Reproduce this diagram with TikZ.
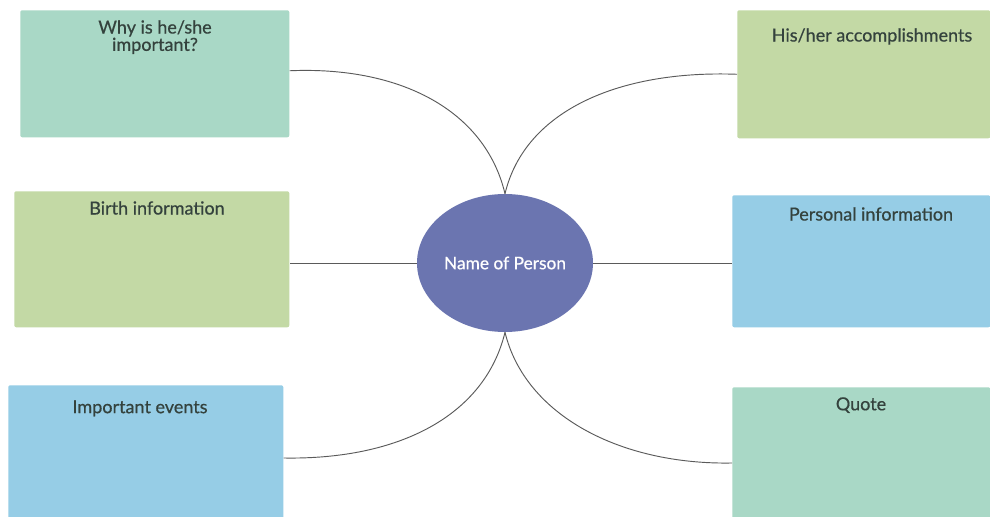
\documentclass[tikz,border=0pt]{standalone}
\usepackage{fontspec}
\setmainfont{Lato}
\newfontfamily\labelfont[FakeBold=0.6]{Lato}
\usetikzlibrary{shapes.geometric,calc}
\definecolor{mint}{HTML}{A9D8C6}
\definecolor{leaf}{HTML}{C3D9A5}
\definecolor{sky}{HTML}{96CDE6}
\definecolor{violet}{HTML}{6B75B0}
\definecolor{ink}{HTML}{34423D}
\definecolor{wire}{HTML}{5A5A5A}
\begin{document}
\begin{tikzpicture}[x=0.75pt,y=-0.75pt,
  box/.style={draw=none,rectangle,rounded corners=1.5pt,inner sep=0pt,anchor=north west},
  lbl/.style={text=ink,font=\labelfont\fontsize{13.5pt}{13pt}\selectfont,align=center,anchor=north,inner sep=0pt},
  wirel/.style={draw=wire,line width=0.7pt}]
\useasboundingbox (0,0) rectangle (990,517);
\fill[white] (0,0) rectangle (990,517);
% boxes
\node[box,fill=mint,minimum width=269*0.75pt,minimum height=127*0.75pt] (b1) at (20,10) {};
\node[box,fill=leaf,minimum width=253*0.75pt,minimum height=128*0.75pt] (b2) at (737,10) {};
\node[box,fill=leaf,minimum width=275*0.75pt,minimum height=136*0.75pt] (b3) at (14,191) {};
\node[box,fill=sky,minimum width=258*0.75pt,minimum height=132*0.75pt] (b4) at (732,195) {};
\node[box,fill=sky,minimum width=275*0.75pt,minimum height=135*0.75pt] (b5) at (8,385) {};
\node[box,fill=mint,minimum width=258*0.75pt,minimum height=133*0.75pt] (b6) at (732,387) {};
% labels
\node[lbl] (t1) at (155,20) {Why is he/she\\important?};
\node[lbl] (t2) at (872,28) {His/her accomplishments};
\node[lbl] (t3) at (157,201) {Birth information};
\node[lbl] (t4) at (871,207) {Personal information};
\node[lbl] (t5) at (140,400) {Important events};
\node[lbl] (t6) at (861,397) {Quote};
% centre
\node[ellipse,fill=violet,minimum width=176*0.75pt,minimum height=138*0.75pt,inner sep=0pt,
  text=white,font=\labelfont\fontsize{13pt}{13pt}\selectfont] (c) at (505,263) {Name of Person};
% connectors
\draw[wirel] (c.north) .. controls (485,110) and (400,66) .. ($(b1.east)+(0,-3)$);
\draw[wirel] (c.north) .. controls (525,110) and (620,70) .. (b2.west);
\draw[wirel] (c.west) -- (b3.east |- c.west);
\draw[wirel] (c.east) -- (b4.west |- c.east);
\draw[wirel] (c.south) .. controls (485,415) and (400,460) .. (b5.east |- 0,458);
\draw[wirel] (c.south) .. controls (525,415) and (620,465) .. (b6.west |- 0,463);
\end{tikzpicture}
\end{document}
